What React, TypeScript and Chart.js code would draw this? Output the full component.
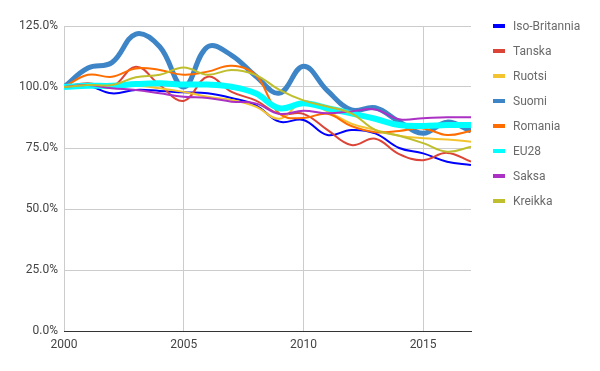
import React, { useEffect, useRef } from "react";
import { Chart, registerables } from "chart.js";

Chart.register(...registerables);

const years = [2000, 2001, 2002, 2003, 2004, 2005, 2006, 2007, 2008, 2009, 2010, 2011, 2012, 2013, 2014, 2015, 2016, 2017];
const xTicks = [2000, 2005, 2010, 2015];
const yTicks = [0, 25, 50, 75, 100, 125];

const isoBritannia = [100, 100.5, 97.4, 98.8, 98.4, 97.8, 97.4, 95.5, 92.6, 85.8, 86.5, 80.3, 82.4, 81, 75, 72.8, 69.4, 68];
const tanska = [100, 101.5, 100, 108.3, 100.8, 94.3, 104.2, 98, 94.5, 89, 89, 82.4, 76.2, 78.8, 72.5, 70, 73, 69.4];
const ruotsi = [100, 100.8, 100, 100.5, 99.5, 98, 96, 94.7, 92, 87, 94, 90, 85, 82.4, 80, 79, 78.5, 77.6];
const suomi = [100, 107.8, 110, 121.7, 116.5, 100, 116.5, 113, 104.5, 97.5, 108.5, 98.5, 90.6, 91.5, 85.8, 81, 85.6, 82];
const romania = [100, 105, 104.2, 107.6, 107, 105, 106.3, 108.7, 105, 89, 87.3, 89, 84, 81.5, 82, 83, 80.3, 82];
const eu28 = [100, 100.5, 100.5, 101.2, 101.5, 101, 101, 100.1, 97.4, 91.3, 93.3, 91.3, 89.2, 87, 84.4, 84, 84.4, 84.4];
const saksa = [100, 100.8, 99.5, 98.8, 97.4, 96, 95.5, 94, 93.3, 89, 90.3, 89.2, 90, 90.8, 86.8, 87.2, 87.6, 87.6];
const kreikka = [100, 100.8, 100.8, 104, 105, 108, 105, 107, 105, 98.8, 94.5, 92, 89.2, 82.4, 80, 77, 73.5, 75.5];

const seriesNames = ["Iso-Britannia", "Tanska", "Ruotsi", "Suomi", "Romania", "EU28", "Saksa", "Kreikka"];
const seriesValues = [isoBritannia, tanska, ruotsi, suomi, romania, eu28, saksa, kreikka];
const seriesColors = ["#0000ff", "#dc4437", "#f4c430", "#3d85c6", "#ff6d01", "#00ffff", "#ab30c4", "#bfbf2e"];
const seriesWidths = [2, 2, 2, 5, 2, 6, 2, 2];

const FONT = "Roboto, 'Noto Sans', sans-serif";

const legendPlugin = {
  id: "sideLegend",
  afterDraw(chart: any) {
    const ctx = chart.ctx;
    ctx.save();
    ctx.font = `12px ${FONT}`;
    ctx.textBaseline = "middle";
    ctx.textAlign = "left";
    chart.data.datasets.forEach((ds: any, i: number) => {
      const y = 26 + 25 * i;
      ctx.fillStyle = ds.borderColor;
      ctx.fillRect(493, y - 2, 12, 4);
      ctx.fillStyle = "#6a6a6a";
      ctx.fillText(ds.label, 513, y + 0.5);
    });
    ctx.restore();
  },
};

export default function App() {
  const ref = useRef<HTMLCanvasElement | null>(null);

  useEffect(() => {
    if (!ref.current) return;
    const n = seriesNames.length;
    const chart = new Chart(ref.current, {
      type: "line",
      data: {
        datasets: seriesNames.map((name, i) => ({
          label: name,
          data: years.map((yr, j) => ({ x: yr, y: seriesValues[i][j] })),
          borderColor: seriesColors[i],
          backgroundColor: seriesColors[i],
          borderWidth: seriesWidths[i],
          pointRadius: 0,
          tension: 0.4,
          fill: false,
          order: n - i,
        })),
      },
      options: {
        responsive: false,
        animation: false,
        layout: { padding: { top: 26, right: 129, left: 0, bottom: 0 } },
        plugins: {
          legend: { display: false },
          tooltip: { enabled: false },
        },
        scales: {
          x: {
            type: "linear",
            min: 2000,
            max: 2017,
            afterBuildTicks: (axis: any) => {
              axis.ticks = xTicks.map((v) => ({ value: v }));
            },
            afterFit: (axis: any) => {
              axis.height = 40;
            },
            grid: { color: "#cccccc", drawTicks: false },
            border: { color: "#333333", width: 1 },
            ticks: {
              padding: 7,
              color: "#444",
              font: { family: FONT, size: 12 },
              maxRotation: 0,
              callback: (v: any) => String(v),
            },
          },
          y: {
            min: 0,
            max: 125,
            afterBuildTicks: (axis: any) => {
              axis.ticks = yTicks.map((v) => ({ value: v }));
            },
            afterFit: (axis: any) => {
              axis.width = 64;
            },
            grid: { color: "#cccccc", drawTicks: false },
            border: { display: false },
            ticks: {
              padding: 6,
              color: "#444",
              font: { family: FONT, size: 12 },
              callback: (v: any) => Number(v).toFixed(1) + "%",
            },
          },
        },
      },
      plugins: [legendPlugin],
    });
    return () => chart.destroy();
  }, []);

  return (
    <div style={{ position: "fixed", left: 0, top: 0, width: 600, height: 371, background: "#fff" }}>
      <canvas ref={ref} width={600} height={371} style={{ width: 600, height: 371, display: "block" }} />
    </div>
  );
}
